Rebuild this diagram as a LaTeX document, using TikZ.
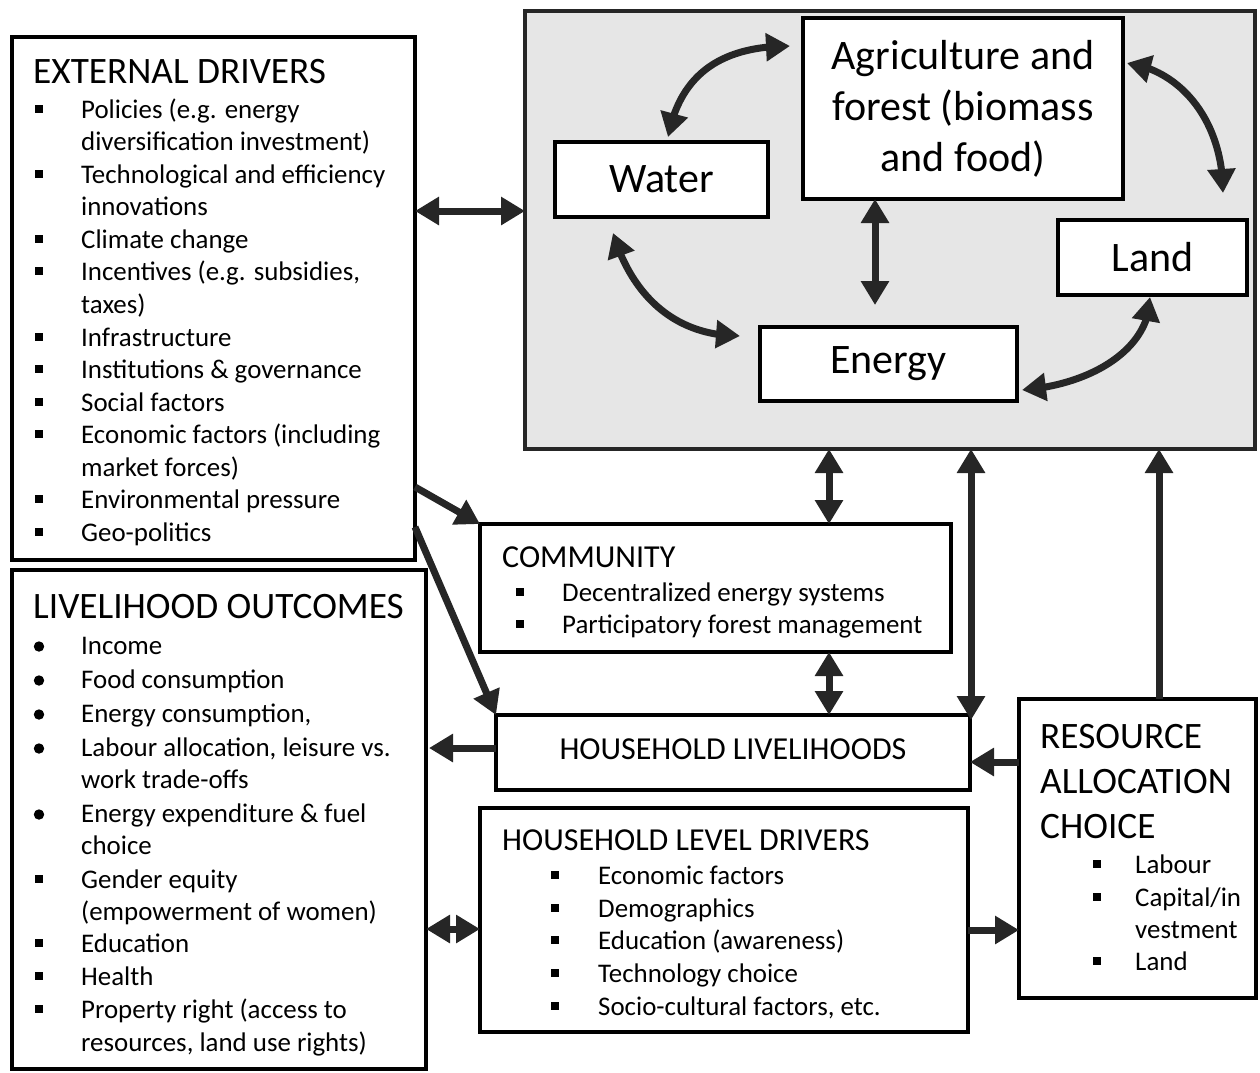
\documentclass[tikz,border=0pt]{standalone}
\usepackage{fontspec}
\setmainfont{Carlito}
\usetikzlibrary{arrows.meta,calc,bending}
\definecolor{arr}{RGB}{38,38,38}
\definecolor{panel}{RGB}{230,230,230}
\newcommand\ItemSq[5]{%
  \fill ({#2-3.8},{#4-8-3.8}) rectangle ({#2+3.8},{#4-8+3.8});
  \node[body] (#1) at (#3,#4) {#5};}
\newcommand\ItemRd[5]{%
  \fill (#2,{#4-6.5}) circle[radius=5.2];
  \node[body] (#1) at (#3,#4) {#5};}
\newcommand\ItemCont[4]{\node[body] (#1) at (#2,#3) {#4};}
\newcommand\BoxNode[7]{%
  \node[#6, minimum width={#4-#2}, minimum height={#5-#3}] (#1) at ({(#2+#4)/2},{(#3+#5)/2}) {#7};}
\begin{document}
\begin{tikzpicture}[x=1pt,y=-1pt,
  box/.style={draw=black, line width=4pt, fill=white, rectangle, inner sep=0pt, outer sep=0pt},
  panelbox/.style={draw=arr, line width=4pt, fill=panel, rectangle, inner sep=0pt, outer sep=0pt},
  lbl/.style={box, align=center, font=\fontsize{42}{51}\selectfont},
  conn/.style={draw=arr, line width=7pt, -{Triangle[length=24pt,width=27pt]}},
  dconn/.style={draw=arr, line width=7pt, {Triangle[length=24pt,width=27pt]}-{Triangle[length=24pt,width=27pt]}},
  body/.style={inner sep=0pt, anchor=base west, yshift=-1.5pt, font=\fontsize{26.9}{32.5}\selectfont},
  head/.style={inner sep=0pt, anchor=base west, font=\fontsize{37.3}{45}\selectfont},
  sub/.style={inner sep=0pt, anchor=base west, font=\fontsize{32}{39}\selectfont}]
\useasboundingbox (0,0) rectangle (1260,1072);

% panel and its boxes
\BoxNode{grey}{525}{11}{1255}{449}{panelbox}{}
\BoxNode{water}{555}{142}{768}{217}{lbl}{Water}
\BoxNode{agri}{803}{18}{1123}{199}{lbl}{Agriculture and\\forest (biomass\\and food)}
\BoxNode{land}{1058}{220}{1247}{295}{lbl}{Land}
\BoxNode{energy}{760}{327}{1017}{401}{lbl}{Energy}

% other boxes
\BoxNode{ext}{12}{37}{415}{560}{box}{}
\BoxNode{liv}{12}{570}{426}{1069}{box}{}
\BoxNode{comm}{480}{524}{951}{652}{box}{}
\BoxNode{hh}{496}{715}{970}{790}{box}{}
\BoxNode{hhd}{480}{808}{968}{1032}{box}{}
\BoxNode{res}{1019}{699}{1256}{998}{box}{}

\node[inner sep=0pt, anchor=base, font=\fontsize{32}{39}\selectfont] (hht) at (733,759) {HOUSEHOLD LIVELIHOODS};

% external drivers text
\node[head] (edh) at (33,83) {EXTERNAL DRIVERS};
\ItemSq{ed1}{39}{81}{117}{Policies (e.g. energy}
\ItemCont{ed1b}{81}{149}{diversification investment)}
\ItemSq{ed2}{39}{81}{182}{Technological and efficiency}
\ItemCont{ed2b}{81}{214}{innovations}
\ItemSq{ed3}{39}{81}{247}{Climate change}
\ItemSq{ed4}{39}{81}{279}{Incentives (e.g. subsidies,}
\ItemCont{ed4b}{81}{312}{taxes)}
\ItemSq{ed5}{39}{81}{345}{Infrastructure}
\ItemSq{ed6}{39}{81}{377}{Institutions \& governance}
\ItemSq{ed7}{39}{81}{410}{Social factors}
\ItemSq{ed8}{39}{81}{442}{Economic factors (including}
\ItemCont{ed8b}{81}{475}{market forces)}
\ItemSq{ed9}{39}{81}{507}{Environmental pressure}
\ItemSq{ed10}{39}{81}{540}{Geo-politics}

% livelihood outcomes text
\node[head] (loh) at (33,618) {LIVELIHOOD OUTCOMES};
\ItemRd{lo1}{39}{81}{653}{Income}
\ItemRd{lo2}{39}{81}{687}{Food consumption}
\ItemRd{lo3}{39}{81}{721}{Energy consumption,}
\ItemRd{lo4}{39}{81}{755}{Labour allocation, leisure vs.}
\ItemCont{lo4b}{81}{787}{work trade-offs}
\ItemRd{lo5}{39}{81}{821}{Energy expenditure \& fuel}
\ItemCont{lo5b}{81}{853}{choice}
\ItemSq{lo6}{39}{81}{887}{Gender equity}
\ItemCont{lo6b}{81}{919}{(empowerment of women)}
\ItemSq{lo7}{39}{81}{951}{Education}
\ItemSq{lo8}{39}{81}{984}{Health}
\ItemSq{lo9}{39}{81}{1017}{Property right (access to}
\ItemCont{lo9b}{81}{1050}{resources, land use rights)}

% community
\node[sub] (comh) at (502,567) {COMMUNITY};
\ItemSq{cm1}{520}{562}{600}{Decentralized energy systems}
\ItemSq{cm2}{520}{562}{632}{Participatory forest management}

% household level drivers
\node[sub] (hdh) at (502,850) {HOUSEHOLD LEVEL DRIVERS};
\ItemSq{hd1}{555}{598}{883}{Economic factors}
\ItemSq{hd2}{555}{598}{916}{Demographics}
\ItemSq{hd3}{555}{598}{948}{Education (awareness)}
\ItemSq{hd4}{555}{598}{981}{Technology choice}
\ItemSq{hd5}{555}{598}{1014}{Socio-cultural factors, etc.}

% resource allocation choice
\node[head] (ra1) at (1040,748) {RESOURCE};
\node[head] (ra2) at (1040,793) {ALLOCATION};
\node[head] (ra3) at (1040,838) {CHOICE};
\ItemSq{rc1}{1097}{1135}{872}{Labour}
\ItemSq{rc2}{1097}{1135}{905}{Capital/in}
\ItemCont{rc2b}{1135}{937}{vestment}
\ItemSq{rc3}{1097}{1135}{969}{Land}

% curved connectors in the panel
\draw[dconn] ($(water.north)+(6.5,-5)$) .. controls +(12,-62) and +(-70,0) .. ($(agri.west)+(-13,-62.5)$);
\draw[dconn] ($(agri.east)+(4,-45.5)$) .. controls +(53,7) and +(0,-73) .. ($(land.north)+(70.5,-27)$);
\draw[dconn] ($(water.south)+(-48.5,16)$) .. controls +(17,57) and +(-70,0) .. ($(energy.west)+(-20,-28)$);
\draw[dconn] ($(energy.east)+(5,26)$) .. controls +(68,-5) and +(0,53) .. ($(land.south)+(-2.5,2)$);
\draw[dconn] (agri.south -| 875,0) -- ($(energy.north -| 875,0)+(0,-22)$);

% straight connectors
\draw[dconn] (ext.east |- 0,211) -- (grey.west |- 0,211);
\draw[dconn] (grey.south -| 829,0) -- (comm.north -| 829,0);
\draw[dconn] (comm.south -| 829,0) -- (hh.north -| 829,0);
\draw[dconn] (grey.south -| 971,0) -- ($(hh.north east)+(1,5)$);
\draw[conn] (res.north -| 1159,0) -- (grey.south -| 1159,0);
\draw[conn] (res.west |- 0,762) -- (hh.east |- 0,762);
\draw[conn] (ext.east |- 0,487) -- (comm.north west);
\draw[conn] (ext.east |- 0,527) -- (hh.north west);
\draw[conn, shorten >=3pt] (hh.west |- 0,748) -- (liv.east |- 0,748);
\draw[dconn] (liv.east |- 0,929) -- (hhd.west |- 0,929);
\draw[conn] (hhd.east |- 0,930) -- (res.west |- 0,930);
\end{tikzpicture}
\end{document}
